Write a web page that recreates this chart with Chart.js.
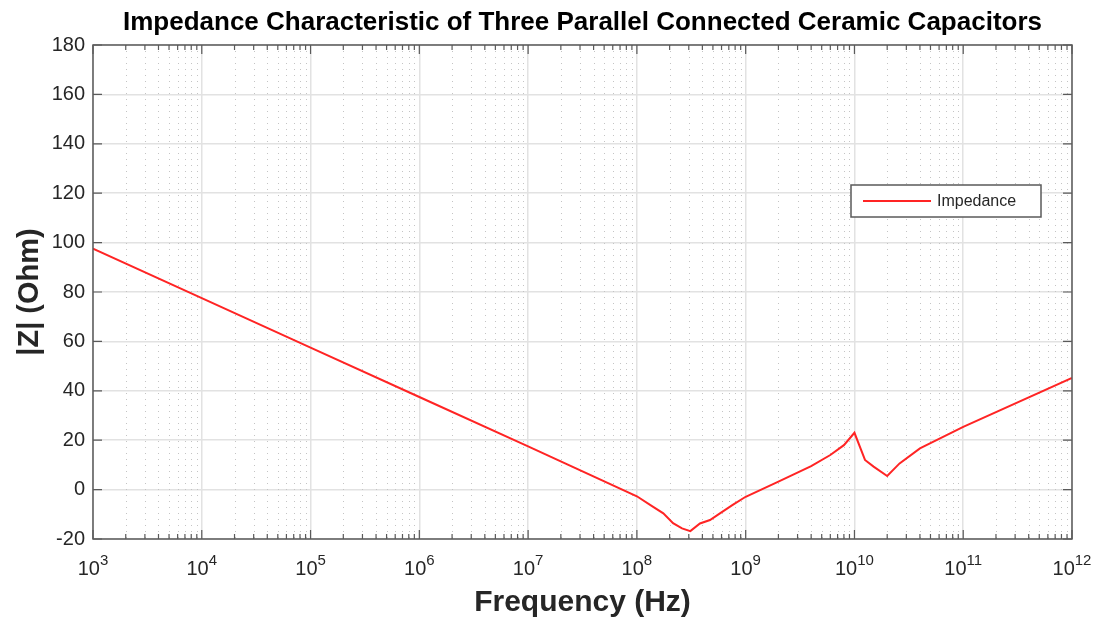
<!DOCTYPE html>
<html>
<head>
<meta charset="utf-8">
<script src="https://cdn.jsdelivr.net/npm/chart.js@4/dist/chart.umd.min.js"></script>
<style>
  html, body { margin: 0; padding: 0; background: #fff; }
  #wrap { width: 1107px; height: 621px; position: relative; }
</style>
</head>
<body>
<div id="wrap"><canvas id="myChart"></canvas></div>
<script>
// values
var freqs = [1e3, 1e4, 1e5, 1e6, 1e7, 1e8, 1.4e8, 1.75e8, 2.15e8, 2.6e8, 3.1e8, 3.8e8, 4.7e8, 5.8e8, 7.6e8,
             1e9, 2e9, 4e9, 6e9, 8e9, 1e10, 1.25e10, 1.5e10, 2e10, 2.6e10, 4e10, 1e11, 1e12];
var impedance = [97.5, 77.5, 57.5, 37.5, 17.5, -2.7, -6.9, -9.6, -13.6, -15.7, -16.8, -13.7, -12.3, -9.6, -6.2,
                 -2.9, 3.2, 9.5, 14, 18, 23, 12, 9.3, 5.5, 10.6, 16.7, 25.4, 45.2];
var decades = [3, 4, 5, 6, 7, 8, 9, 10, 11, 12];
var yMin = -20, yMax = 180, yStep = 20;

var fontFam = '"Liberation Sans", Arial, sans-serif';
var points = freqs.map(function (f, i) { return { x: f, y: impedance[i] }; });
var frameColor = '#5a5a5a';

var boxPlugin = {
    id: 'boxPlugin',
    beforeDatasetsDraw: function (chart) {
        var ctx = chart.ctx, a = chart.chartArea, xs = chart.scales.x;
        ctx.save();
        ctx.strokeStyle = '#c4c4c4';
        ctx.lineWidth = 1;
        ctx.setLineDash([1, 5]);
        for (var k = 3; k < 12; k++) {
            for (var m = 2; m <= 9; m++) {
                var px = Math.round(xs.getPixelForValue(m * Math.pow(10, k))) + 0.5;
                ctx.beginPath();
                ctx.moveTo(px, a.top);
                ctx.lineTo(px, a.bottom);
                ctx.stroke();
            }
        }
        ctx.restore();
    },
    afterDatasetsDraw: function (chart) {
        var ctx = chart.ctx, a = chart.chartArea, xs = chart.scales.x, ys = chart.scales.y;
        ctx.save();
        ctx.strokeStyle = frameColor;
        ctx.lineWidth = 1.5;
        ctx.strokeRect(a.left, a.top, a.right - a.left, a.bottom - a.top);
        ctx.lineWidth = 1.2;
        ctx.beginPath();
        // inward ticks on all four sides
        for (var k = 3; k <= 12; k++) {
            for (var m = 1; m <= 9; m++) {
                var v = m * Math.pow(10, k);
                if (v > 1e12) break;
                var px = xs.getPixelForValue(v);
                var len = m === 1 ? 9 : 5;
                ctx.moveTo(px, a.bottom); ctx.lineTo(px, a.bottom - len);
                ctx.moveTo(px, a.top); ctx.lineTo(px, a.top + len);
            }
        }
        for (var y = yMin; y <= yMax; y += yStep) {
            var py = ys.getPixelForValue(y);
            ctx.moveTo(a.left, py); ctx.lineTo(a.left + 9, py);
            ctx.moveTo(a.right, py); ctx.lineTo(a.right - 9, py);
        }
        ctx.stroke();

        // x tick labels as 10 with a raised exponent
        ctx.fillStyle = '#262626';
        ctx.textBaseline = 'alphabetic';
        ctx.textAlign = 'left';
        decades.forEach(function (e) {
            var px = xs.getPixelForValue(Math.pow(10, e));
            ctx.font = '20px ' + fontFam;
            var wb = ctx.measureText('10').width;
            ctx.font = '15px ' + fontFam;
            var we = ctx.measureText(String(e)).width;
            var x0 = px - (wb + we) / 2;
            ctx.font = '20px ' + fontFam;
            ctx.fillText('10', x0, a.bottom + 36);
            ctx.font = '15px ' + fontFam;
            ctx.fillText(String(e), x0 + wb, a.bottom + 26);
        });
        ctx.restore();
    },
    afterDraw: function (chart) {
        // legend box inside the plot
        var ctx = chart.ctx, ds = chart.data.datasets[0];
        var bx = 851, by = 185, bw = 190, bh = 32;
        ctx.save();
        ctx.fillStyle = '#fff';
        ctx.fillRect(bx, by, bw, bh);
        ctx.strokeStyle = frameColor;
        ctx.lineWidth = 1.5;
        ctx.strokeRect(bx, by, bw, bh);
        ctx.strokeStyle = ds.borderColor;
        ctx.lineWidth = 2;
        ctx.beginPath();
        ctx.moveTo(bx + 12, by + bh / 2);
        ctx.lineTo(bx + 80, by + bh / 2);
        ctx.stroke();
        ctx.fillStyle = '#262626';
        ctx.font = '16px ' + fontFam;
        ctx.textBaseline = 'middle';
        ctx.fillText(ds.label, bx + 86, by + bh / 2 + 1);
        ctx.restore();
    }
};

var ctx = document.getElementById('myChart').getContext('2d');
var impedanceChart = new Chart(ctx, {
    type: 'line',
    data: {
        datasets: [{
            label: 'Impedance',
            data: points,
            borderColor: '#ff2424',
            borderWidth: 2,
            pointRadius: 0,
            tension: 0,
            fill: false
        }]
    },
    options: {
        responsive: true,
        maintainAspectRatio: false,
        animation: false,
        layout: { padding: { left: 0, right: 35, top: 0, bottom: 0 } },
        plugins: {
            legend: { display: false },
            tooltip: { enabled: false },
            title: {
                display: true,
                fullSize: false,
                text: 'Impedance Characteristic of Three Parallel Connected Ceramic Capacitors',
                color: '#000',
                font: { family: fontFam, size: 26, weight: 'bold', lineHeight: 1.2 },
                padding: { top: 7, bottom: 6.8 }
            }
        },
        scales: {
            x: {
                type: 'logarithmic',
                min: 1e3,
                max: 1e12,
                afterBuildTicks: function (scale) {
                    scale.ticks = decades.map(function (e) { return { value: Math.pow(10, e) }; });
                },
                afterFit: function (scale) { scale.height = 82; },
                ticks: {
                    autoSkip: false,
                    maxRotation: 0,
                    callback: function () { return ''; }
                },
                grid: { color: '#e2e2e2', lineWidth: 1.5, drawTicks: false },
                border: { display: false },
                title: {
                    display: true,
                    text: 'Frequency (Hz)',
                    color: '#262626',
                    font: { family: fontFam, size: 30, weight: 'bold', lineHeight: 1.2 },
                    padding: { top: 6, bottom: 0 }
                }
            },
            y: {
                min: yMin,
                max: yMax,
                afterFit: function (scale) { scale.width = 93; },
                ticks: {
                    stepSize: yStep,
                    padding: 8,
                    color: '#262626',
                    font: { family: fontFam, size: 20 }
                },
                grid: { color: '#e2e2e2', lineWidth: 1.5, drawTicks: false },
                border: { display: false },
                title: {
                    display: true,
                    text: '|Z| (Ohm)',
                    color: '#262626',
                    font: { family: fontFam, size: 29, weight: 'bold', lineHeight: 1.2 },
                    padding: { top: 13, bottom: 0 }
                }
            }
        }
    },
    plugins: [boxPlugin]
});
</script>
</body>
</html>
